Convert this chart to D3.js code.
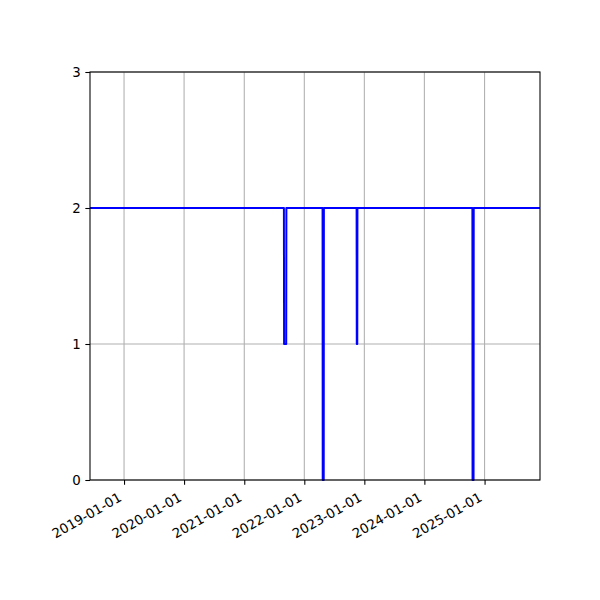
<!DOCTYPE html>
<html>
<head>
<meta charset="utf-8">
<script src="https://cdn.jsdelivr.net/npm/d3@7"></script>
<style>
    body { margin: 0; background: white; }
    text { font-family: "DejaVu Sans", sans-serif; font-size: 13.33px; fill: black; }
</style>
</head>
<body>
<div id="chart"></div>
<script>
// data points (value stays at 2 apart from short drops)
let dates = ["2018-06-08",
    "2021-08-30", "2021-08-31", "2021-09-13", "2021-09-14",
    "2022-04-22", "2022-04-23", "2022-04-29", "2022-04-30",
    "2022-11-15", "2022-11-16", "2022-11-19", "2022-11-20",
    "2024-10-19", "2024-10-20", "2024-10-26", "2024-10-27",
    "2025-12-04"];
let values = [2,
    2, 1, 1, 2,
    2, 0, 0, 2,
    2, 1, 1, 2,
    2, 0, 0, 2,
    2];
let yTicks = [0, 1, 2, 3];

let parse = d3.timeParse("%Y-%m-%d");
let data = dates.map((d, i) => ({date: parse(d), value: values[i]}));

// axes box like a matplotlib figure of 600x600
let margin = {top: 72, right: 60, bottom: 120, left: 90};
let width = 600, height = 600;

let svg = d3.select("#chart").append("svg")
    .attr("width", width)
    .attr("height", height);

let x = d3.scaleTime()
    .domain(d3.extent(data, d => d.date))
    .range([margin.left, width - margin.right]);

let y = d3.scaleLinear()
    .domain([0, 3])
    .range([height - margin.bottom, margin.top]);

let xTicks = x.ticks(d3.timeYear.every(1));

// grid
svg.append("g").selectAll("line.xgrid")
    .data(xTicks)
    .enter().append("line")
    .attr("x1", d => x(d)).attr("x2", d => x(d))
    .attr("y1", margin.top).attr("y2", height - margin.bottom)
    .attr("stroke", "#b0b0b0").attr("stroke-width", 1.07);

svg.append("g").selectAll("line.ygrid")
    .data(yTicks)
    .enter().append("line")
    .attr("x1", margin.left).attr("x2", width - margin.right)
    .attr("y1", d => y(d)).attr("y2", d => y(d))
    .attr("stroke", "#b0b0b0").attr("stroke-width", 1.07);

// the series
let line = d3.line()
    .x(d => x(d.date))
    .y(d => y(d.value));

svg.append("path")
    .datum(data)
    .attr("d", line)
    .attr("fill", "none")
    .attr("stroke", "#0000ff")
    .attr("stroke-width", 2)
    .attr("stroke-linejoin", "round");

// x axis: ticks + rotated labels
let xAxis = svg.append("g")
    .attr("transform", `translate(0, ${height - margin.bottom})`)
    .call(d3.axisBottom(x).tickValues(xTicks).tickSize(4.67).tickFormat(""));
xAxis.select(".domain").remove();
xAxis.selectAll(".tick line").attr("stroke", "black").attr("stroke-width", 1.07);

let fmt = d3.timeFormat("%Y-%m-%d");
svg.append("g").selectAll("g.xlab")
    .data(xTicks)
    .enter().append("g")
    .attr("transform", d => `translate(${x(d) - 7.7}, ${height - margin.bottom + 9.33}) rotate(-30)`)
    .append("text")
    .attr("text-anchor", "end")
    .attr("dy", "0.93em")
    .text(d => fmt(d));

// y axis
let yAxis = svg.append("g")
    .attr("transform", `translate(${margin.left}, 0)`)
    .call(d3.axisLeft(y).tickValues(yTicks).tickSize(4.67).tickPadding(4.67).tickFormat(d3.format("d")));
yAxis.select(".domain").remove();
yAxis.selectAll(".tick line").attr("stroke", "black").attr("stroke-width", 1.07);
yAxis.selectAll(".tick text").attr("font-size", "13.33px").attr("font-family", "DejaVu Sans");

// spines
svg.append("rect")
    .attr("x", margin.left).attr("y", margin.top)
    .attr("width", width - margin.left - margin.right)
    .attr("height", height - margin.top - margin.bottom)
    .attr("fill", "none")
    .attr("stroke", "black")
    .attr("stroke-width", 1.07);
</script>
</body>
</html>
